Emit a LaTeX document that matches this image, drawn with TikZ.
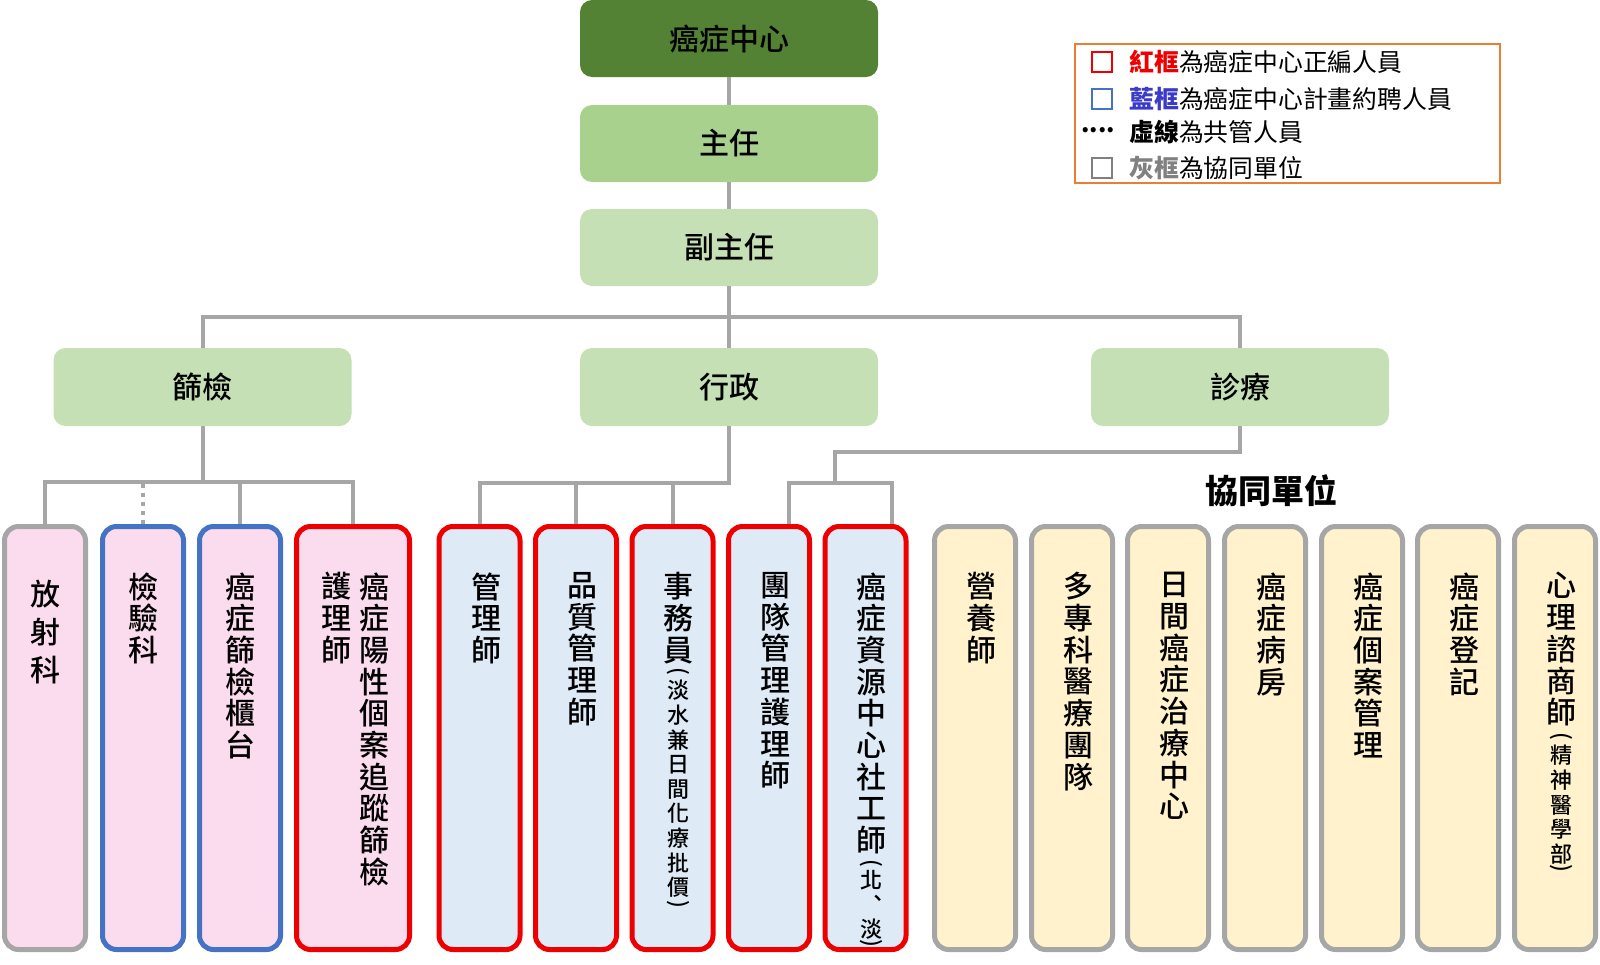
\documentclass[tikz,border=0pt]{standalone}
\usepackage{fontspec}
\usepackage{graphicx}
\setmainfont{Noto Sans CJK TC}[BoldFont={Noto Sans CJK TC Medium}]
\newfontfamily\heavyfam{Noto Sans CJK TC}
\newcommand\heavy{\heavyfam\bfseries}
\definecolor{cDark}{HTML}{548235}
\definecolor{cMid}{HTML}{A9D18E}
\definecolor{cLight}{HTML}{C5E0B4}
\definecolor{cLine}{HTML}{A6A6A6}
\definecolor{cRed}{HTML}{EE0000}
\definecolor{cBlue}{HTML}{4472C4}
\definecolor{cGrayB}{HTML}{A6A6A6}
\definecolor{cPink}{HTML}{FBDCEE}
\definecolor{cSky}{HTML}{DEEBF7}
\definecolor{cCream}{HTML}{FFF2CC}
\definecolor{cOrange}{HTML}{ED7D31}
\definecolor{cBlueT}{HTML}{3B3BC8}
\definecolor{cGrayT}{HTML}{808080}
\tikzset{
  conn/.style={draw=cLine, line width=2pt},
  dotconn/.style={draw=cLine, line width=2pt, dash pattern=on 2pt off 2.5pt},
  topbox/.style={rectangle, rounded corners=6pt, minimum width=149pt, minimum height=38.5pt, inner sep=0pt, font=\bfseries\fontsize{15}{18}\selectfont},
  colbox/.style={rectangle, rounded corners=7pt, line width=2.5pt, minimum width=40.5pt, minimum height=211.5pt, inner sep=0pt},
  redbox/.style={colbox, draw=cRed},
  bluebox/.style={colbox, draw=cBlue},
  graybox/.style={colbox, draw=cGrayB},
  vtext/.style={anchor=north, align=center, inner sep=0pt, font=\bfseries\fontsize{15}{15.85}\selectfont},
  vsmall/.style={anchor=north, align=center, inner sep=0pt, font=\bfseries\fontsize{11}{12.3}\selectfont},
  paren/.style={rotate=-90, inner sep=0pt, font=\bfseries\fontsize{11}{12}\selectfont},
  legsq/.style={rectangle, minimum size=10pt, line width=1.2pt, inner sep=0pt},
  legtext/.style={anchor=west, inner sep=0pt, font=\fontsize{12.4}{14}\selectfont},
}
\begin{document}
\begin{tikzpicture}[x=0.5pt,y=-0.5pt]
\useasboundingbox (0,0) rectangle (1600,964);

% top chain
\node[topbox, fill=cDark] (center) at (729,38.5) {癌症中心};
\node[topbox, fill=cMid] (dir) at (729,143.5) {主任};
\node[topbox, fill=cLight] (vdir) at (729,247.5) {副主任};

% second level
\node[topbox, fill=cLight, minimum height=39pt] (screen) at (202.5,387) {篩檢};
\node[topbox, fill=cLight, minimum height=39pt] (admin) at (729,387) {行政};
\node[topbox, fill=cLight, minimum height=39pt] (clinic) at (1240,387) {診療};

% bottom boxes
\node[graybox, fill=cPink] (b1) at (45,738) {};
\node[bluebox, fill=cPink] (b2) at (143,738) {};
\node[bluebox, fill=cPink] (b3) at (240,738) {};
\node[redbox, fill=cPink, minimum width=56.5pt] (b4) at (353,738) {};
\node[redbox, fill=cSky] (b5) at (479.5,738) {};
\node[redbox, fill=cSky] (b6) at (576,738) {};
\node[redbox, fill=cSky] (b7) at (672.5,738) {};
\node[redbox, fill=cSky] (b8) at (769,738) {};
\node[redbox, fill=cSky] (b9) at (865.5,738) {};
\node[graybox, fill=cCream] (b10) at (975,738) {};
\node[graybox, fill=cCream] (b11) at (1072,738) {};
\node[graybox, fill=cCream] (b12) at (1168,738) {};
\node[graybox, fill=cCream] (b13) at (1265,738) {};
\node[graybox, fill=cCream] (b14) at (1362,738) {};
\node[graybox, fill=cCream] (b15) at (1458,738) {};
\node[graybox, fill=cCream] (b16) at (1555,738) {};

% connectors
\coordinate (jtop) at (729,317);
\draw[conn] (center.south) -- (dir.north);
\draw[conn] (dir.south) -- (vdir.north);
\draw[conn] (vdir.south) -- (admin.north);
\draw[conn] (screen.north) |- (jtop) -| (clinic.north);

\coordinate (j1) at (202.5,482);
\draw[conn] (screen.south) -- (j1);
\draw[conn] (b1.north) |- (j1) -| (b4.north);
\draw[conn] (b3.north) -- (b3.north |- j1);
\draw[dotconn] (b2.north) -- (b2.north |- j1);

\coordinate (j2) at (729,483);
\draw[conn] (admin.south) -- (j2) -| (b5.north);
\draw[conn] (b6.north) -- (b6.north |- j2);
\draw[conn] (b7.north) -- (b7.north |- j2);

\coordinate (j3) at (835,452);
\coordinate (j3c) at (835,483);
\coordinate (d8) at (789,483);
\coordinate (d9) at (892,483);
\draw[conn] (clinic.south) |- (j3) -- (j3c);
\draw[conn] (b8.north -| d8) -- (d8) -- (d9) -- (b9.north -| d9);

% texts in bottom boxes
\node[vtext, font=\bfseries\fontsize{15}{19}\selectfont] (t1) at (45,580) {放\\射\\科};
\node[vtext] (t2) at (143,572) {檢\\驗\\科};
\node[vtext] (t3) at (240,572) {癌\\症\\篩\\檢\\櫃\\台};
\node[vtext] (t4a) at (374,572) {癌\\症\\陽\\性\\個\\案\\追\\蹤\\篩\\檢};
\node[vtext] (t4b) at (336,572) {護\\理\\師};
\node[vtext] (t5) at (486,572) {管\\理\\師};
\node[vtext] (t6) at (582,572) {品\\質\\管\\理\\師};
\node[vtext] (t7) at (678,572) {事\\務\\員};
\node[paren] (t7p) at (678,671) {(};
\node[vsmall] (t7s) at (678,680) {淡\\水\\兼\\日\\間\\化\\療\\批\\價};
\node[paren] (t7q) at (678,904) {)};
\node[vtext] (t8) at (775,572) {團\\隊\\管\\理\\護\\理\\師};
\node[vtext] (t9) at (871,572) {癌\\症\\資\\源\\中\\心\\社\\工\\師};
\node[paren] (t9p) at (871,863) {(};
\node[vsmall] (t9s) at (871,870) {北\\︑\\淡};
\node[paren] (t9q) at (871,943) {)};
\node[vtext] (t10) at (981,572) {營\\養\\師};
\node[vtext] (t11) at (1078,572) {多\\專\\科\\醫\\療\\團\\隊};
\node[vtext] (t12) at (1174,572) {日\\間\\癌\\症\\治\\療\\中\\心};
\node[vtext] (t13) at (1271,572) {癌\\症\\病\\房};
\node[vtext] (t14) at (1368,572) {癌\\症\\個\\案\\管\\理};
\node[vtext] (t15) at (1464,572) {癌\\症\\登\\記};
\node[vtext] (t16) at (1561,572) {心\\理\\諮\\商\\師};
\node[paren] (t16p) at (1561,736) {(};
\node[vsmall] (t16s) at (1561,745) {精\\神\\醫\\學\\部};
\node[paren] (t16q) at (1561,868) {)};

% group label
\node[inner sep=0pt, font=\heavy\fontsize{16.5}{18}\selectfont] (coop) at (1271,491) {協同單位};

% legend
\node[draw=cOrange, line width=1pt, minimum width=212.5pt, minimum height=69.5pt, inner sep=0pt] (legend) at (1287.5,113.5) {};
\node[legsq, draw=cRed] (sqR) at (1102,62) {};
\node[legsq, draw=cBlue] (sqB) at (1102,99) {};
\node[legsq, draw=cGrayT] (sqG) at (1102,168) {};
\node[inner sep=0pt, font=\heavy\fontsize{12}{14}\selectfont] (dots) at (1098,130) {....};
\node[legtext] (lR) at (1129,62) {\textcolor{cRed}{\heavy 紅框}為癌症中心正編人員};
\node[legtext] (lB) at (1129,99) {\textcolor{cBlueT}{\heavy 藍框}為癌症中心計畫約聘人員};
\node[legtext] (lD) at (1129,132) {{\heavy 虛線}為共管人員};
\node[legtext] (lG) at (1129,168) {\textcolor{cGrayT}{\heavy 灰框}為協同單位};
\end{tikzpicture}
\end{document}
